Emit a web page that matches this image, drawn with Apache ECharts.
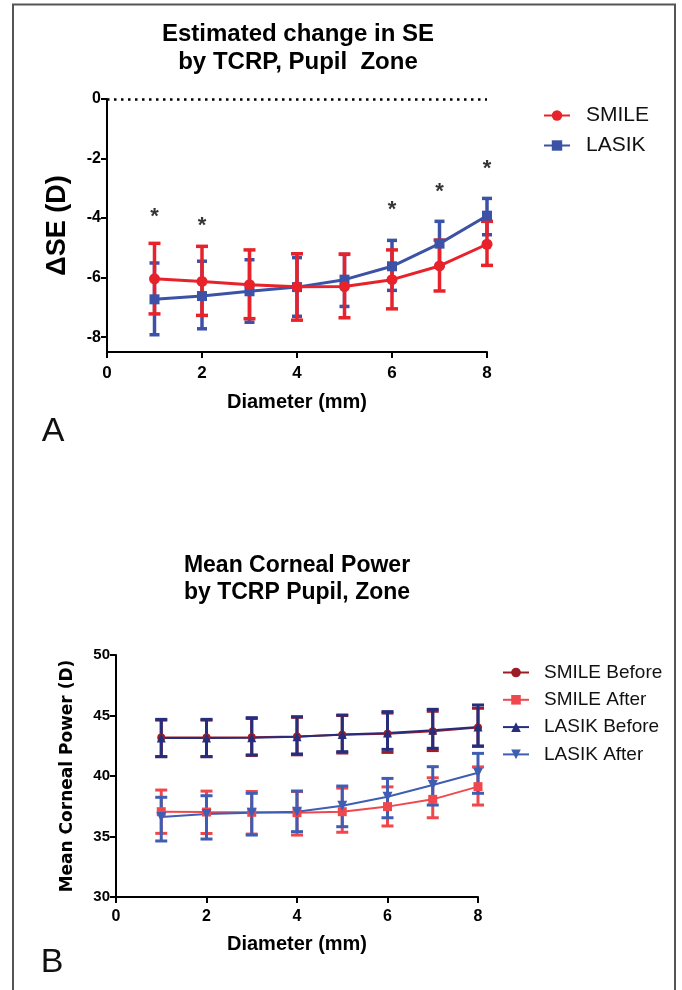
<!DOCTYPE html>
<html lang="en">

<head>
    <meta charset="UTF-8">
    <title>TCRP pupil zone</title>
    <style>
        body { margin: 0; background: #fff; }
    </style>
</head>
<script src="https://cdn.jsdelivr.net/npm/echarts@6/dist/echarts.min.js"></script>

<body>

    <div id="main" style="width: 682px;height: 990px;"></div>

    <script type="text/javascript">
        // diameters (mm)
        var diam = [1, 2, 3, 4, 5, 6, 7, 8];

        // A: estimated change in SE (D)
        var smileSE = [-6.04, -6.13, -6.24, -6.31, -6.30, -6.07, -5.61, -4.88];
        var smileSEHi = [-4.85, -4.95, -5.07, -5.20, -5.21, -5.07, -4.74, -4.11];
        var smileSELo = [-7.22, -7.27, -7.38, -7.43, -7.35, -7.05, -6.45, -5.59];
        var lasikSE = [-6.73, -6.62, -6.46, -6.32, -6.07, -5.62, -4.86, -3.92];
        var lasikSEHi = [-5.51, -5.45, -5.40, -5.33, -5.22, -4.75, -4.11, -3.34];
        var lasikSELo = [-7.92, -7.72, -7.50, -7.30, -6.97, -6.43, -5.61, -4.56];
        // significance stars
        var starX = [1, 2, 6, 7, 8];
        var starY = [-3.79, -4.10, -3.55, -2.95, -2.17];
        var ticksA = [-8, -6, -4, -2, 0];

        // B: mean corneal power (D)
        var smileBefore = [43.18, 43.18, 43.20, 43.27, 43.40, 43.50, 43.70, 44.00];
        var smileBeforeHi = [44.62, 44.62, 44.75, 44.85, 45.00, 45.20, 45.35, 45.60];
        var smileBeforeLo = [41.60, 41.60, 41.70, 41.75, 41.90, 41.95, 42.10, 42.45];
        var smileAfter = [37.05, 37.02, 37.00, 36.97, 37.05, 37.47, 38.07, 39.12];
        var smileAfterHi = [38.84, 38.75, 38.72, 38.72, 39.00, 39.10, 39.85, 40.75];
        var smileAfterLo = [35.26, 35.25, 35.20, 35.12, 35.35, 35.87, 36.55, 37.60];
        var lasikBefore = [43.15, 43.15, 43.17, 43.25, 43.42, 43.55, 43.78, 44.05];
        var lasikBeforeHi = [44.68, 44.68, 44.82, 44.90, 45.04, 45.32, 45.51, 45.87];
        var lasikBeforeLo = [41.60, 41.60, 41.74, 41.82, 42.01, 42.20, 42.29, 42.48];
        var lasikAfter = [36.62, 36.86, 36.97, 37.05, 37.55, 38.29, 39.26, 40.27];
        var lasikAfterHi = [38.24, 38.37, 38.57, 38.76, 39.17, 39.80, 40.77, 41.87];
        var lasikAfterLo = [34.63, 34.79, 35.12, 35.40, 35.81, 36.55, 37.60, 38.57];

        var FONT = '"Liberation Sans", Arial, sans-serif';
        var RED = '#e8222a', BLUE = '#3c52a6';
        var DARKRED = '#9e1c24', LIGHTRED = '#f0474d', NAVY = '#262d7c', MIDBLUE = '#3f5db2';

        function pairs(xs, ys) {
            return xs.map(function (x, i) { return [x, ys[i]]; });
        }
        function ranges(lo, hi) {
            return diam.map(function (x, i) { return [x, lo[i], hi[i]]; });
        }

        // vertical error bar with caps, placed through the axis scales
        function errBar(name, xi, yi, lo, hi, color, capHalf, width) {
            return {
                name: name,
                type: 'custom',
                xAxisIndex: xi,
                yAxisIndex: yi,
                silent: true,
                data: ranges(lo, hi),
                encode: { x: 0, y: [1, 2] },
                renderItem: function (params, api) {
                    var pLo = api.coord([api.value(0), api.value(1)]);
                    var pHi = api.coord([api.value(0), api.value(2)]);
                    var st = { stroke: color, lineWidth: width };
                    return {
                        type: 'group',
                        children: [
                            { type: 'line', shape: { x1: pLo[0], y1: pLo[1], x2: pHi[0], y2: pHi[1] }, style: st },
                            { type: 'line', shape: { x1: pLo[0] - capHalf, y1: pLo[1], x2: pLo[0] + capHalf, y2: pLo[1] }, style: st },
                            { type: 'line', shape: { x1: pHi[0] - capHalf, y1: pHi[1], x2: pHi[0] + capHalf, y2: pHi[1] }, style: st }
                        ]
                    };
                }
            };
        }

        function meanLine(name, xi, yi, ys, color, symbol, size, width) {
            return {
                name: name,
                type: 'line',
                xAxisIndex: xi,
                yAxisIndex: yi,
                data: pairs(diam, ys),
                symbol: symbol,
                symbolSize: size,
                showAllSymbol: true,
                itemStyle: { color: color },
                lineStyle: { color: color, width: width },
                silent: true
            };
        }

        var axisBase = {
            axisLine: { show: true, onZero: false, lineStyle: { color: '#000', width: 2 } },
            axisTick: { show: true, length: 6, lineStyle: { color: '#000', width: 2 } },
            splitLine: { show: false }
        };

        var downTri = 'path://M0,0 L10,0 L5,9 Z';

        var myChart = echarts.init(document.getElementById('main'));
        var option = {
            animation: false,
            backgroundColor: '#fff',
            textStyle: { fontFamily: FONT },
            title: [{
                text: 'Estimated change in SE\nby TCRP, Pupil  Zone',
                left: 298, top: 20, textAlign: 'center', padding: 0,
                textStyle: { fontFamily: FONT, fontWeight: 'bold', fontSize: 24, lineHeight: 28, color: '#000' }
            }, {
                text: 'Mean Corneal Power\nby TCRP Pupil, Zone',
                left: 297, top: 552, textAlign: 'center', padding: 0,
                textStyle: { fontFamily: FONT, fontWeight: 'bold', fontSize: 23, lineHeight: 27, color: '#000' }
            }, {
                text: 'A', left: 53, top: 415, textAlign: 'center', padding: 0,
                textStyle: { fontFamily: FONT, fontWeight: 'normal', fontSize: 34, color: '#111' }
            }, {
                text: 'B', left: 52, top: 946, textAlign: 'center', padding: 0,
                textStyle: { fontFamily: FONT, fontWeight: 'normal', fontSize: 34, color: '#111' }
            }],
            legend: [{
                data: ['SMILE', 'LASIK'],
                orient: 'vertical',
                left: 543, top: 105, padding: 0,
                itemWidth: 26, itemHeight: 13, itemGap: 9,
                textStyle: { fontFamily: FONT, fontSize: 21, lineHeight: 20, color: '#111', padding: [0, 0, 0, 11] }
            }, {
                data: ['SMILE Before', 'SMILE After', 'LASIK Before', 'LASIK After'],
                orient: 'vertical',
                left: 502, top: 663, padding: 0,
                itemWidth: 26, itemHeight: 12, itemGap: 8.3,
                textStyle: { fontFamily: FONT, fontSize: 19, lineHeight: 19, color: '#111', padding: [0, 0, 0, 10] }
            }],
            grid: [
                { left: 107, right: 195, top: 99, bottom: 638 },
                { left: 116, right: 204, top: 655, bottom: 93 }
            ],
            xAxis: [
                Object.assign({}, axisBase, {
                    gridIndex: 0, type: 'value', min: 0, max: 8, interval: 2,
                    name: 'Diameter (mm)', nameLocation: 'middle', nameGap: 40,
                    nameTextStyle: { fontFamily: FONT, fontWeight: 'bold', fontSize: 20, color: '#000' },
                    axisLabel: { fontFamily: FONT, fontWeight: 'bold', fontSize: 17, color: '#000', margin: 13 }
                }),
                Object.assign({}, axisBase, {
                    gridIndex: 1, type: 'value', min: 0, max: 8, interval: 2,
                    name: 'Diameter (mm)', nameLocation: 'middle', nameGap: 37,
                    nameTextStyle: { fontFamily: FONT, fontWeight: 'bold', fontSize: 20, color: '#000' },
                    axisLabel: { fontFamily: FONT, fontWeight: 'bold', fontSize: 16, color: '#000', margin: 12 }
                })
            ],
            yAxis: [
                Object.assign({}, axisBase, {
                    gridIndex: 0, type: 'value', min: -8.5, max: 0,
                    axisTick: { show: true, length: 6, customValues: ticksA, lineStyle: { color: '#000', width: 2 } },
                    axisLabel: { customValues: ticksA, fontFamily: FONT, fontWeight: 'bold', fontSize: 16, color: '#000', margin: 6 },
                    name: '\u0394SE (D)', nameLocation: 'middle', nameRotate: 90, nameGap: 36,
                    nameTextStyle: { fontFamily: FONT, fontWeight: 'bold', fontSize: 27, color: '#000' }
                }),
                Object.assign({}, axisBase, {
                    gridIndex: 1, type: 'value', min: 30, max: 50, interval: 5,
                    axisLabel: { fontFamily: FONT, fontWeight: 'bold', fontSize: 15, color: '#000', margin: 6 },
                    name: 'Mean Corneal Power (D)', nameLocation: 'middle', nameRotate: 90, nameGap: 40,
                    nameTextStyle: { fontFamily: '"DejaVu Sans", sans-serif', fontWeight: 'bold', fontSize: 17, color: '#000' }
                })
            ],
            graphic: [{
                type: 'polyline',
                silent: true,
                shape: { points: [[13, 990], [13, 4.5], [675, 4.5], [675, 990]] },
                style: { stroke: '#555', lineWidth: 2, fill: null }
            }],
            series: [
                errBar('LASIK err', 0, 0, lasikSELo, lasikSEHi, BLUE, 5, 3.5),
                meanLine('LASIK', 0, 0, lasikSE, BLUE, 'rect', 10, 3),
                errBar('SMILE err', 0, 0, smileSELo, smileSEHi, RED, 6, 3.5),
                Object.assign(meanLine('SMILE', 0, 0, smileSE, RED, 'circle', 11, 3), {
                    markLine: {
                        silent: true,
                        symbol: 'none',
                        label: { show: false },
                        lineStyle: { color: '#000', type: [2.5, 4.5], width: 2.5 },
                        data: [{ yAxis: 0 }]
                    }
                }),
                {
                    name: 'stars',
                    type: 'scatter',
                    xAxisIndex: 0, yAxisIndex: 0,
                    data: pairs(starX, starY),
                    symbolSize: 1,
                    itemStyle: { color: 'rgba(0,0,0,0)' },
                    silent: true,
                    label: {
                        show: true, formatter: '*', position: 'inside', offset: [0, 5],
                        fontFamily: FONT, fontWeight: 'bold', fontSize: 22, color: '#000'
                    }
                },

                errBar('SMILE Before err', 1, 1, smileBeforeLo, smileBeforeHi, DARKRED, 6, 3),
                meanLine('SMILE Before', 1, 1, smileBefore, DARKRED, 'circle', 8, 2),
                errBar('SMILE After err', 1, 1, smileAfterLo, smileAfterHi, LIGHTRED, 6, 3),
                meanLine('SMILE After', 1, 1, smileAfter, LIGHTRED, 'rect', 9, 2),
                errBar('LASIK Before err', 1, 1, lasikBeforeLo, lasikBeforeHi, NAVY, 6, 3),
                meanLine('LASIK Before', 1, 1, lasikBefore, NAVY, 'triangle', 9, 2),
                errBar('LASIK After err', 1, 1, lasikAfterLo, lasikAfterHi, MIDBLUE, 6, 3),
                meanLine('LASIK After', 1, 1, lasikAfter, MIDBLUE, downTri, 10, 2)
            ]
        };
        myChart.setOption(option);
    </script>
</body>

</html>
